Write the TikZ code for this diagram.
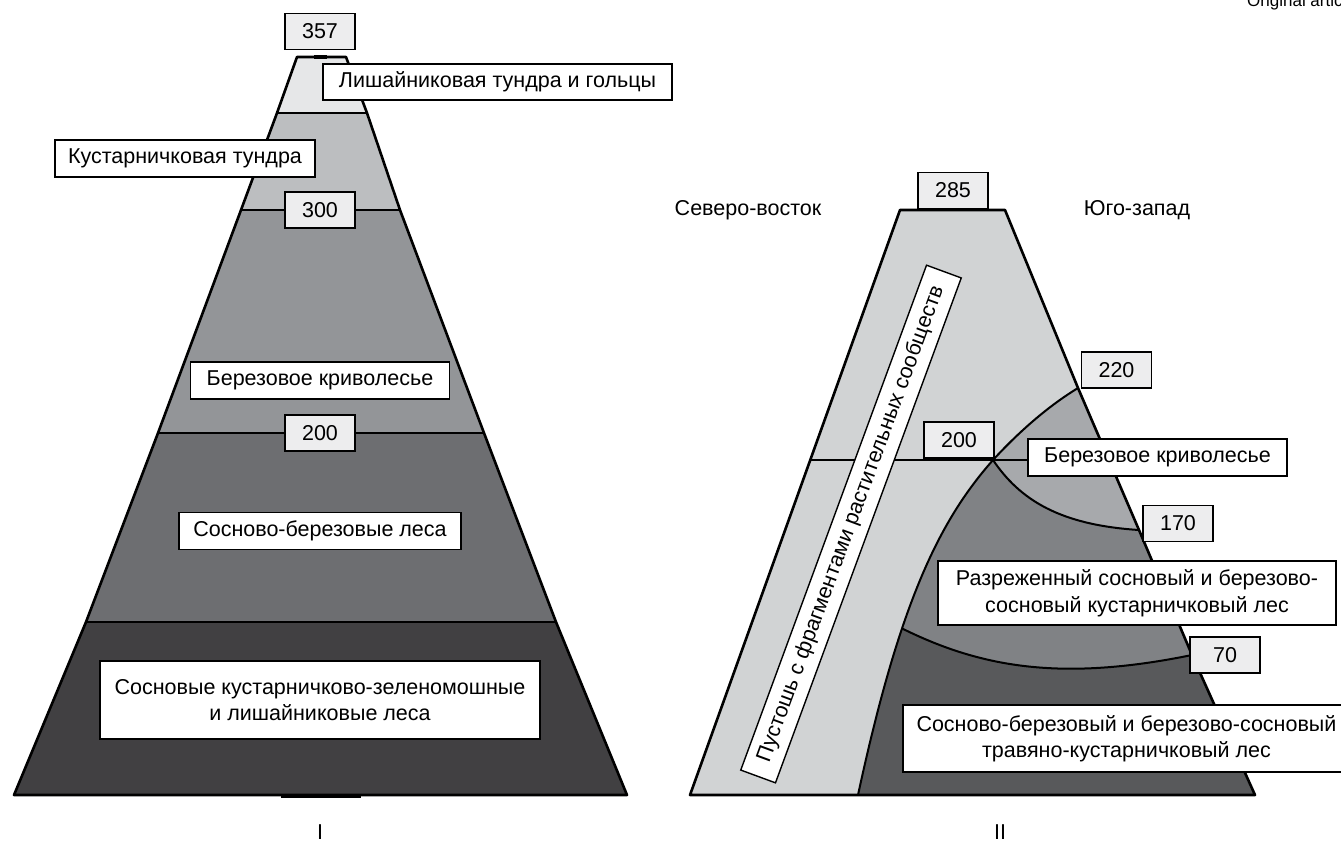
\documentclass[tikz,border=0pt]{standalone}
\usepackage{fontspec}
\setmainfont{Liberation Sans}
\newcommand\lblfont{\fontsize{21.5}{26.5}\selectfont}
\definecolor{cA}{HTML}{E6E7E8}
\definecolor{cB}{HTML}{BCBEC0}
\definecolor{cC}{HTML}{939598}
\definecolor{cD}{HTML}{6D6E71}
\definecolor{cE}{HTML}{414042}
\definecolor{gL}{HTML}{D1D3D4}
\definecolor{gA}{HTML}{A7A9AC}
\definecolor{gB}{HTML}{808285}
\definecolor{gC}{HTML}{58595B}
\definecolor{numfill}{HTML}{EDEDEE}
\begin{document}
\begin{tikzpicture}[x=1pt,y=-1pt,
  lbl/.style={draw=black,line width=1.4pt,fill=white,inner sep=0pt,font=\lblfont,align=center},
  num/.style={lbl,fill=numfill,minimum width=70pt,minimum height=36pt},
  plain/.style={inner sep=0pt,font=\lblfont},
  edge/.style={line width=2.6pt,line join=round},
  sep/.style={line width=2pt}]
\useasboundingbox[fill=white] (0,0) rectangle (1341,854);

% ---------- Pyramid I ----------
\fill[cA] (297,57) -- (346,57) -- (367,113) -- (277,113) -- cycle;
\fill[cB] (277,113) -- (367,113) -- (400,210) -- (241,210) -- cycle;
\fill[cC] (241,210) -- (400,210) -- (484,433) -- (158,433) -- cycle;
\fill[cD] (158,433) -- (484,433) -- (556,622) -- (86,622) -- cycle;
\fill[cE] (86,622) -- (556,622) -- (627,795) -- (14,795) -- cycle;
\draw[sep] (277,113) -- (367,113);
\draw[sep] (241,210) -- (400,210);
\draw[sep] (158,433) -- (484,433);
\draw[sep] (86,622) -- (556,622);
\draw[edge] (297,57) -- (346,57) -- (367,113) -- (400,210) -- (484,433) -- (556,622) -- (627,795) -- (14,795) -- (86,622) -- (158,433) -- (241,210) -- (277,113) -- cycle;
\draw[line width=4pt] (314,57) -- (327,57);
\draw[line width=4pt] (281,796) -- (361,796);

% ---------- Pyramid II ----------
\fill[gL] (900,210) -- (1005,210) -- (1078,388) -- (1139,530) -- (1192,655) -- (1255,795) -- (690,795) -- cycle;
\fill[gA] (810,460) -- (993,460) .. controls (1015,436) and (1045,408) .. (1078,388) -- (1139,530) -- (1192,655) -- (1255,795) -- (690,795) -- cycle;
\fill[gB] (810,460) -- (993,460) .. controls (1020,500) and (1060,525) .. (1139,530) -- (1192,655) -- (1255,795) -- (690,795) -- cycle;
\path (993,460) .. controls (940,520) and (900,600) .. (858,795) coordinate[pos=0.65] (S70);
\fill[gC] (748,632) -- (S70) .. controls (980,667) and (1060,682) .. (1192,655) -- (1255,795) -- (690,795) -- cycle;
\fill[gL] (810,460) -- (993,460) .. controls (940,520) and (900,600) .. (858,795) -- (690,795) -- cycle;
\draw[sep] (810,460) -- (1109,460);
\draw[sep] (993,460) .. controls (1015,436) and (1045,408) .. (1078,388);
\draw[sep] (993,460) .. controls (1020,500) and (1060,525) .. (1139,530);
\draw[sep] (S70) .. controls (980,667) and (1060,682) .. (1192,655);
\draw[sep] (993,460) .. controls (940,520) and (900,600) .. (858,795);
\draw[edge] (900,210) -- (1005,210) -- (1078,388) -- (1139,530) -- (1192,655) -- (1255,795) -- (690,795) -- cycle;

% ---------- Labels, pyramid I ----------
\node[num] (n357) at (320,31.5) {357};
\node[lbl,minimum width=349pt,minimum height=36pt] (lichen) at (497.5,82) {Лишайниковая тундра и гольцы};
\node[lbl,minimum width=260pt,minimum height=37pt] (shrub) at (185,158.5) {Кустарничковая тундра};
\node[num] (n300) at (320,210) {300};
\node[lbl,minimum width=259pt,minimum height=37pt] (birchA) at (320,380.5) {Березовое криволесье};
\node[num] (n200a) at (320,433) {200};
\node[lbl,minimum width=282pt,minimum height=37pt] (pinebirch) at (320,531) {Сосново-березовые леса};
\node[lbl,minimum width=440pt,minimum height=78pt] (pinemoss) at (320,700) {Сосновые кустарничково-зеленомошные\\и лишайниковые леса};
\node[plain] (labI) at (320,832) {I};

% ---------- Labels, pyramid II ----------
\node[plain] (ne) at (748,210) {Северо-восток};
\node[plain] (sw) at (1137,210) {Юго-запад};
\node[num] (n285) at (953,190.5) {285};
\node[num] (n220) at (1116.5,370) {220};
\node[num] (n200b) at (959,440) {200};
\node[lbl,minimum width=259pt,minimum height=37pt] (birchB) at (1157.5,457.5) {Березовое криволесье};
\node[num] (n170) at (1178,523.5) {170};
\node[lbl,minimum width=398pt,minimum height=64pt] (sparse) at (1137,593) {Разреженный сосновый и березово-\\сосновый кустарничковый лес};
\node[num] (n70) at (1225,655) {70};
\node[lbl,minimum width=447pt,minimum height=67pt] (mixed) at (1126.5,738.5) {Сосново-березовый и березово-сосновый\\травяно-кустарничковый лес};
\node[lbl,rotate=69.8,minimum width=538pt,minimum height=37pt] (waste) at (851,524) {Пустошь с фрагментами растительных сообществ};
\node[plain] (labII) at (1000,832) {II};

\node[inner sep=0pt,anchor=base west,font=\fontsize{17}{20}\selectfont] (orig) at (1247,6) {Original article};
\end{tikzpicture}
\end{document}
